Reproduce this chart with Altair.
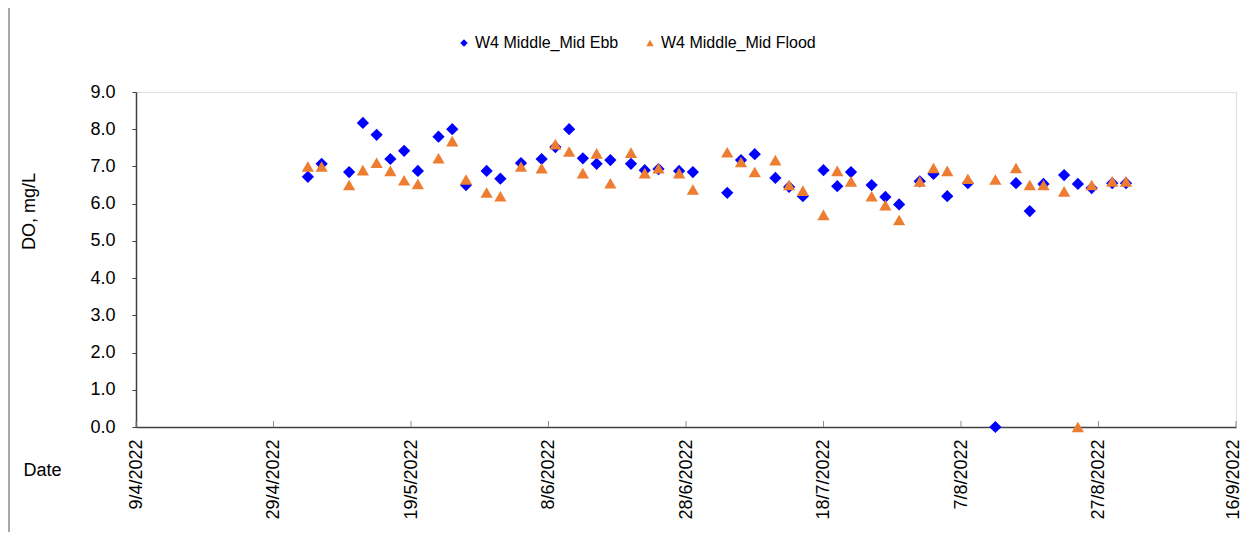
import altair as alt
import pandas as pd

# ---- data ----
dates = [
    "2022-05-04", "2022-05-06", "2022-05-10", "2022-05-12", "2022-05-14",
    "2022-05-16", "2022-05-18", "2022-05-20", "2022-05-23", "2022-05-25",
    "2022-05-27", "2022-05-30", "2022-06-01", "2022-06-04", "2022-06-07",
    "2022-06-09", "2022-06-11", "2022-06-13", "2022-06-15", "2022-06-17",
    "2022-06-20", "2022-06-22", "2022-06-24", "2022-06-27", "2022-06-29",
    "2022-07-04", "2022-07-06", "2022-07-08", "2022-07-11", "2022-07-13",
    "2022-07-15", "2022-07-18", "2022-07-20", "2022-07-22", "2022-07-25",
    "2022-07-27", "2022-07-29", "2022-08-01", "2022-08-03", "2022-08-05",
    "2022-08-08", "2022-08-12", "2022-08-15", "2022-08-17", "2022-08-19",
    "2022-08-22", "2022-08-24", "2022-08-26", "2022-08-29", "2022-08-31",
]
ebb = [
    6.72, 7.07, 6.85, 8.17, 7.85, 7.20, 7.42, 6.88, 7.80, 8.00,
    6.50, 6.88, 6.67, 7.09, 7.20, 7.52, 8.00, 7.22, 7.07, 7.17,
    7.07, 6.90, 6.93, 6.88, 6.85, 6.29, 7.17, 7.33, 6.69, 6.45,
    6.20, 6.90, 6.47, 6.85, 6.50, 6.18, 5.98, 6.60, 6.80, 6.20,
    6.55, 0.00, 6.55, 5.80, 6.53, 6.77, 6.53, 6.42, 6.55, 6.55,
]
flood = [
    7.00, 7.00, 6.50, 6.90, 7.10, 6.88, 6.63, 6.53, 7.22, 7.68,
    6.65, 6.30, 6.20, 7.00, 6.95, 7.60, 7.40, 6.82, 7.35, 6.55,
    7.37, 6.82, 6.95, 6.82, 6.38, 7.38, 7.12, 6.85, 7.17, 6.50,
    6.35, 5.70, 6.88, 6.60, 6.20, 5.96, 5.56, 6.60, 6.96, 6.88,
    6.67, 6.65, 6.96, 6.50, 6.50, 6.33, 0.00, 6.50, 6.60, 6.60,
]
series_names = ["W4 Middle_Mid Ebb", "W4 Middle_Mid Flood"]
series_colors = ["#0000FF", "#ED7D31"]
series_shapes = ["diamond", "triangle-up"]
tick_dates = [
    "2022-04-09", "2022-04-29", "2022-05-19", "2022-06-08", "2022-06-28",
    "2022-07-18", "2022-08-07", "2022-08-27", "2022-09-16",
]
y_ticks = [0, 1, 2, 3, 4, 5, 6, 7, 8, 9]

FONT = "Liberation Sans"
DARK = "#404040"
GREY = "#8C8C8C"

df = pd.DataFrame({
    "date": dates + dates,
    "value": ebb + flood,
    "series": [series_names[0]] * len(dates) + [series_names[1]] * len(dates),
})
ticks_df = pd.DataFrame({"date": tick_dates})
border_df = pd.DataFrame({"k": [0]})


def to_dt(s):
    y, m, d = (int(p) for p in s.split("-"))
    return alt.DateTime(year=y, month=m, date=d, utc=True)


x_scale = alt.Scale(type="utc", domain=[to_dt(tick_dates[0]), to_dt(tick_dates[-1])])

points = alt.Chart(df).mark_point(filled=True, opacity=1, size=150, strokeWidth=0).encode(
    x=alt.X(
        "date:T",
        scale=x_scale,
        axis=alt.Axis(
            values=[to_dt(s) for s in tick_dates],
            labelExpr="utcFormat(datum.value, '%-d/%-m/%Y')",
            title="Date",
            titleX=-94,
            titleY=43,
            titleAngle=0,
            titleAlign="center",
            titleBaseline="middle",
            titleFont=FONT,
            titleFontSize=18,
            titleFontWeight="normal",
            titleColor="black",
            labelAngle=270,
            labelAlign="right",
            labelBaseline="middle",
            labelPadding=12,
            labelOffset={"condition": {"test": "datum.index >= 1", "value": -3}, "value": 0},
            labelFont=FONT,
            labelFontSize=18,
            labelColor="black",
            labelFlush=False,
            labelOverlap=False,
            ticks=False,
            domainColor=DARK,
            domainWidth=1.5,
            grid=False,
        ),
    ),
    y=alt.Y(
        "value:Q",
        scale=alt.Scale(domain=[0, 9], nice=False, zero=True),
        axis=alt.Axis(
            values=y_ticks,
            format=".1f",
            title="DO, mg/L",
            titleX=-107,
            titleY=119,
            titleAngle=270,
            titleAlign="center",
            titleBaseline="middle",
            titleFont=FONT,
            titleFontSize=18,
            titleFontWeight="normal",
            titleColor="black",
            labelFont=FONT,
            labelFontSize=18,
            labelColor="black",
            labelPadding=17,
            tickSize=4,
            tickColor=DARK,
            tickWidth=1,
            domainColor=DARK,
            domainWidth=1.5,
            grid=False,
        ),
    ),
    color=alt.Color(
        "series:N",
        scale=alt.Scale(domain=series_names, range=series_colors),
        legend=alt.Legend(
            title=None,
            orient="none",
            legendX=320,
            legendY=-57,
            direction="horizontal",
            labelFont=FONT,
            labelFontSize=16,
            labelColor="black",
            symbolSize=55,
            symbolStrokeWidth=0,
            labelOffset=3,
            columnPadding=23,
            padding=0,
        ),
    ),
    shape=alt.Shape(
        "series:N",
        scale=alt.Scale(domain=series_names, range=series_shapes),
        legend=None,
    ),
)

xticks = alt.Chart(ticks_df).mark_rule(color=GREY, strokeWidth=1).encode(
    x=alt.X("date:T", scale=x_scale),
    y=alt.value(329),
    y2=alt.value(335),
)

border = alt.Chart(border_df).mark_rule(color=GREY, strokeWidth=1.5).encode(
    x=alt.value(-127),
    y=alt.value(-84),
    y2=alt.value(440),
)

chart = alt.layer(xticks, points, border).properties(
    width=1100,
    height=335,
    autosize=alt.AutoSizeParams(type="none"),
    padding={"left": 128, "top": 84, "right": 5, "bottom": 105},
).configure_view(
    stroke=GREY,
    strokeWidth=1.5,
).configure(background="white")

chart.save("out.html", embed_options={"renderer": "svg", "actions": False})
